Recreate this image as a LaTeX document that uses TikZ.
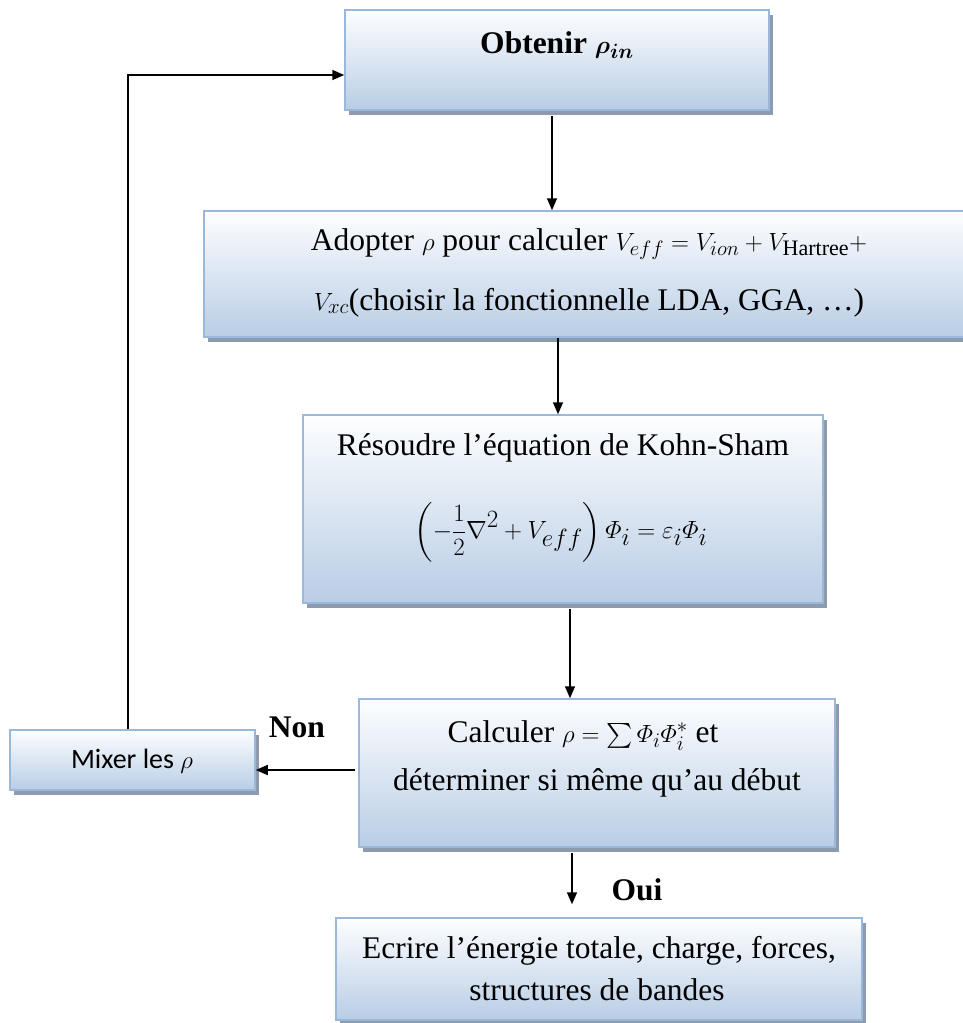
\documentclass[tikz,border=0pt]{standalone}
\usepackage{amsmath}
\usepackage{fontspec}
\setmainfont{Liberation Serif}
\setsansfont{Carlito}
\usetikzlibrary{arrows.meta,shadows}
\definecolor{boxtop}{HTML}{FDFEFF}
\definecolor{boxbot}{HTML}{B9CDE5}
\definecolor{boxline}{HTML}{9AB8DB}
\definecolor{shadowc}{HTML}{8D9BAE}
\tikzset{
  box/.style={draw=boxline, line width=1.5pt, top color=boxtop, bottom color=boxbot,
    inner sep=0pt, drop shadow={shadow xshift=4pt, shadow yshift=-5pt, fill=shadowc, opacity=1}},
  txt/.style={inner sep=0pt, align=center, text=black, anchor=base},
  body/.style={txt, font=\fontsize{31.5}{#1}\selectfont},
  bold/.style={txt, font=\fontsize{31.5}{36}\selectfont\bfseries},
  sans/.style={txt, font=\fontsize{28}{34}\selectfont\sffamily},
  arr/.style={line width=1.6pt, -{Triangle[length=12pt,width=10pt]}}
}
\begin{document}
\begin{tikzpicture}[x=1pt,y=-1pt]
\useasboundingbox (0,0) rectangle (963,1023);
% boxes
\node[box, minimum width=424pt, minimum height=100pt] (b1) at (557,60) {};
\node[box, minimum width=770pt, minimum height=126pt] (b2) at (589,274) {};
\node[box, minimum width=520pt, minimum height=188pt] (b3) at (563,509) {};
\node[box, minimum width=476pt, minimum height=148pt] (b4) at (597,773) {};
\node[box, minimum width=526pt, minimum height=102pt] (b5) at (599,969) {};
\node[box, minimum width=245pt, minimum height=60pt] (mix) at (132.5,760) {};
% texts (baselines)
\node[bold] (t1) at (557,53) {Obtenir $\boldsymbol{\rho_{in}}$};
\node[body=36] (t2a) at (589,250) {Adopter $\rho$ pour calculer $V_{eff}=V_{ion}+V_{\mathrm{Hartree}}+$};
\node[body=36] (t2b) at (589,310) {$V_{xc}$(choisir la fonctionnelle LDA, GGA, \ldots)};
\node[body=36] (t3a) at (563,455) {Résoudre l’équation de Kohn-Sham};
\node[txt, font=\fontsize{35}{40}\selectfont, anchor=center] (t3b) at (561,532)
  {$\displaystyle\left(-\frac{1}{2}\nabla^2+V_{eff}\right)\varPhi_i=\varepsilon_i\varPhi_i$};
\node[body=36] (t4a) at (583,742) {Calculer $\rho=\sum\varPhi_i\varPhi_i^{*}$ et};
\node[body=36] (t4b) at (597,790) {déterminer si même qu’au début};
\node[body=36] (t5a) at (599,958) {Ecrire l’énergie totale, charge, forces,};
\node[body=36] (t5b) at (597,1000) {structures de bandes};
\node[sans] (tm) at (132,768) {Mixer les $\rho$};
\node[bold] (non) at (297,737) {Non};
\node[bold] (oui) at (637,900) {Oui};
% connectors
\draw[arr] ([xshift=-5pt,yshift=-5pt]b1.south) -- ([xshift=-5pt]b1.south |- b2.north);
\draw[arr] ([xshift=-5pt]b3.north |- b2.south) -- ([xshift=-5pt]b3.north);
\draw[arr] ([xshift=7pt,yshift=-5pt]b3.south) -- ([xshift=7pt]b3.south |- b4.north);
\draw[arr, shorten >=13pt] ([xshift=-25pt,yshift=-5pt]b4.south) -- ([xshift=-25pt]b4.south |- b5.north);
\coordinate (nstart) at (355,770);
\draw[arr] (nstart) -- (nstart -| mix.east);
\draw[arr] ([xshift=-4.5pt]mix.north) |- ([yshift=-15pt]b1.west);
\end{tikzpicture}
\end{document}
